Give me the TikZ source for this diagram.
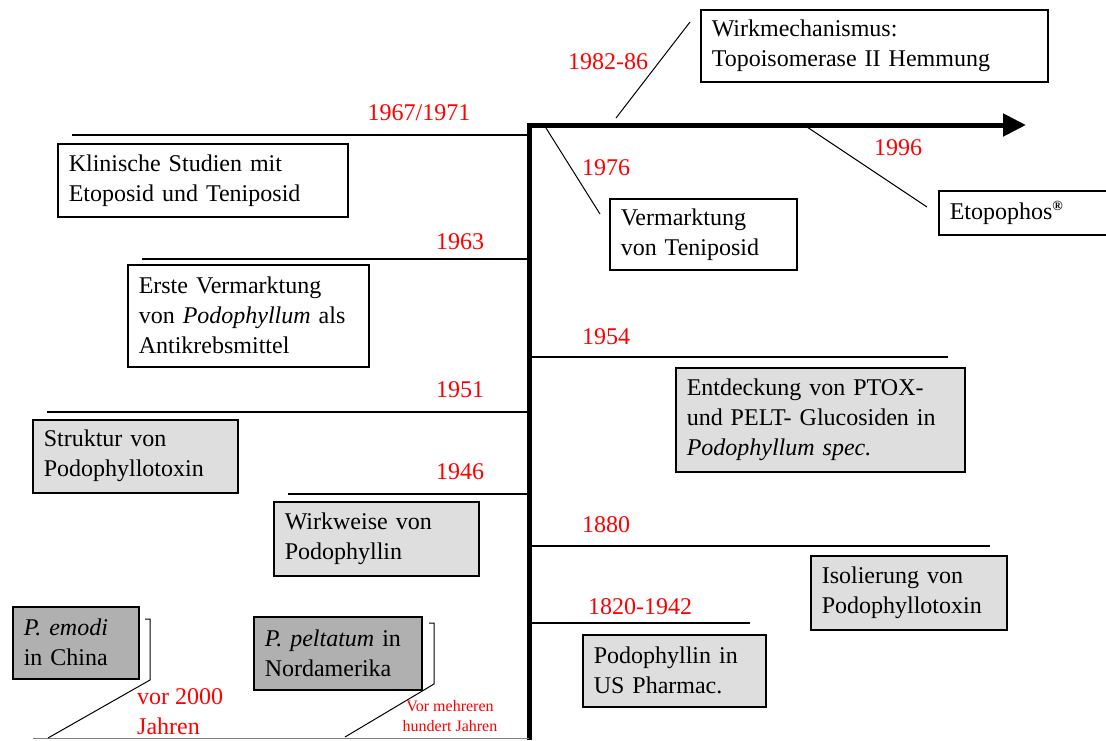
\documentclass[tikz,border=0pt]{standalone}
\usepackage{fontspec}
\setmainfont{Liberation Serif}
\usetikzlibrary{arrows.meta}
\definecolor{hellgrau}{HTML}{DEDEDE}
\definecolor{dunkelgrau}{HTML}{B0B0B0}
\tikzset{
  kasten/.style={draw, line width=1.5pt, anchor=north west, align=left,
    inner xsep=11pt, inner ysep=0pt, font=\fontsize{24}{30}\selectfont},
  jahr/.style={text=red, inner sep=0pt, font=\fontsize{24}{30}\selectfont},
  achse/.style={line width=5pt, -{Triangle[length=23pt,width=22pt]}},
  strich/.style={line width=1.5pt},
  schraeg/.style={line width=1pt}
}
\begin{document}
\begin{tikzpicture}[x=1pt,y=-1pt]
\useasboundingbox (0,0) rectangle (1106,740);

\coordinate (unten) at (529,740);
\coordinate (ecke) at (529,125);
\coordinate (spitze) at (1026,125);
\draw[achse] (unten) -- (ecke) -- (spitze);

% oben rechts
\node[kasten, text width=325pt, minimum height=72pt] (wirkmech) at (700,9)
  {Wirkmechanismus:\\Topoisomerase II Hemmung};
\node[jahr] (j8286) at (608,62) {1982-86};
\coordinate (a8286) at (616,118);
\coordinate (e8286) at (690,22);
\draw[schraeg] (a8286) -- (e8286);

\node[kasten, text width=180pt, minimum height=44pt] (etopophos) at (938,190)
  {Etopophos\textsuperscript{\textbf{\fontsize{14}{14}\selectfont ®}}};
\node[jahr] (j1996) at (898,148) {1996};
\coordinate (a1996) at (807,127);
\coordinate (e1996) at (927,207);
\draw[schraeg] (a1996) -- (e1996);

\node[kasten, text width=165pt, minimum height=71pt] (vermteni) at (609,198)
  {Vermarktung\\von Teniposid};
\node[jahr] (j1976) at (606,168) {1976};
\coordinate (a1976) at (546,128);
\coordinate (e1976) at (600,214);
\draw[schraeg] (a1976) -- (e1976);

% links
\node[jahr] (j6771) at (419,113) {1967/1971};
\coordinate (l6771) at (72,135);
\draw[strich] (l6771) -- (l6771 -| ecke);
\node[kasten, text width=268pt, minimum height=73pt] (klinisch) at (57,143)
  {Klinische Studien mit\\Etoposid und Teniposid};

\node[jahr] (j1963) at (460,242) {1963};
\coordinate (l1963) at (142,259);
\draw[strich] (l1963) -- (l1963 -| ecke);
\node[kasten, text width=219pt, minimum height=102pt] (ersteverm) at (127,264)
  {Erste Vermarktung\\von \textit{Podophyllum} als\\Antikrebsmittel};

\node[jahr] (j1951) at (460,390) {1951};
\coordinate (l1951) at (47,412);
\draw[strich] (l1951) -- (l1951 -| ecke);
\node[kasten, fill=hellgrau, text width=183pt, minimum height=73pt] (struktur) at (32,419)
  {Struktur von\\Podophyllotoxin};

\node[jahr] (j1946) at (460,472) {1946};
\coordinate (l1946) at (288,494);
\draw[strich] (l1946) -- (l1946 -| ecke);
\node[kasten, fill=hellgrau, text width=183pt, minimum height=74pt] (wirkweise) at (273,501)
  {Wirkweise von\\Podophyllin};

% rechts
\node[jahr] (j1954) at (606,337) {1954};
\coordinate (r1954) at (948,357);
\draw[strich] (r1954 -| ecke) -- (r1954);
\node[kasten, fill=hellgrau, text width=267pt, minimum height=104pt] (entdeckung) at (675,367)
  {Entdeckung von PTOX-\\und PELT- Glucosiden in\\\textit{Podophyllum spec.}};

\node[jahr] (j1880) at (606,525) {1880};
\coordinate (r1880) at (990,546);
\draw[strich] (r1880 -| ecke) -- (r1880);
\node[kasten, fill=hellgrau, text width=174pt, minimum height=74pt] (isolierung) at (810,555)
  {Isolierung von\\Podophyllotoxin};

\node[jahr] (j1820) at (640,607) {1820-1942};
\coordinate (r1820) at (750,623);
\draw[strich] (r1820 -| ecke) -- (r1820);
\node[kasten, fill=hellgrau, text width=161pt, minimum height=72pt] (uspharm) at (582,634)
  {Podophyllin in\\US Pharmac.};

% unten
\coordinate (b0) at (33,738);
\draw[gray, line width=1pt] (b0) -- (b0 -| ecke);

\node[kasten, fill=dunkelgrau, text width=104pt, minimum height=72pt] (emodi) at (12,606)
  {\textit{P. emodi}\\in China};
\coordinate (k1o) at (145,619);
\coordinate (k1u) at (150,680);
\coordinate (k1e) at (48,738);
\draw[schraeg] (k1o) -- (k1o -| k1u) -- (k1u) -- (k1e);
\node[jahr, align=left, anchor=west] (j2000) at (137,712) {vor 2000\\Jahren};

\node[kasten, fill=dunkelgrau, text width=146pt, minimum height=73pt] (peltatum) at (253,616)
  {\textit{P. peltatum} in\\Nordamerika};
\coordinate (k2o) at (429,623);
\coordinate (k2u) at (434,684);
\coordinate (k2e) at (345,737);
\draw[schraeg] (k2o) -- (k2o -| k2u) -- (k2u) -- (k2e);
\node[jahr, align=center, font=\fontsize{16}{20}\selectfont] (jhundert) at (450,716)
  {Vor mehreren\\hundert Jahren};
\end{tikzpicture}
\end{document}
